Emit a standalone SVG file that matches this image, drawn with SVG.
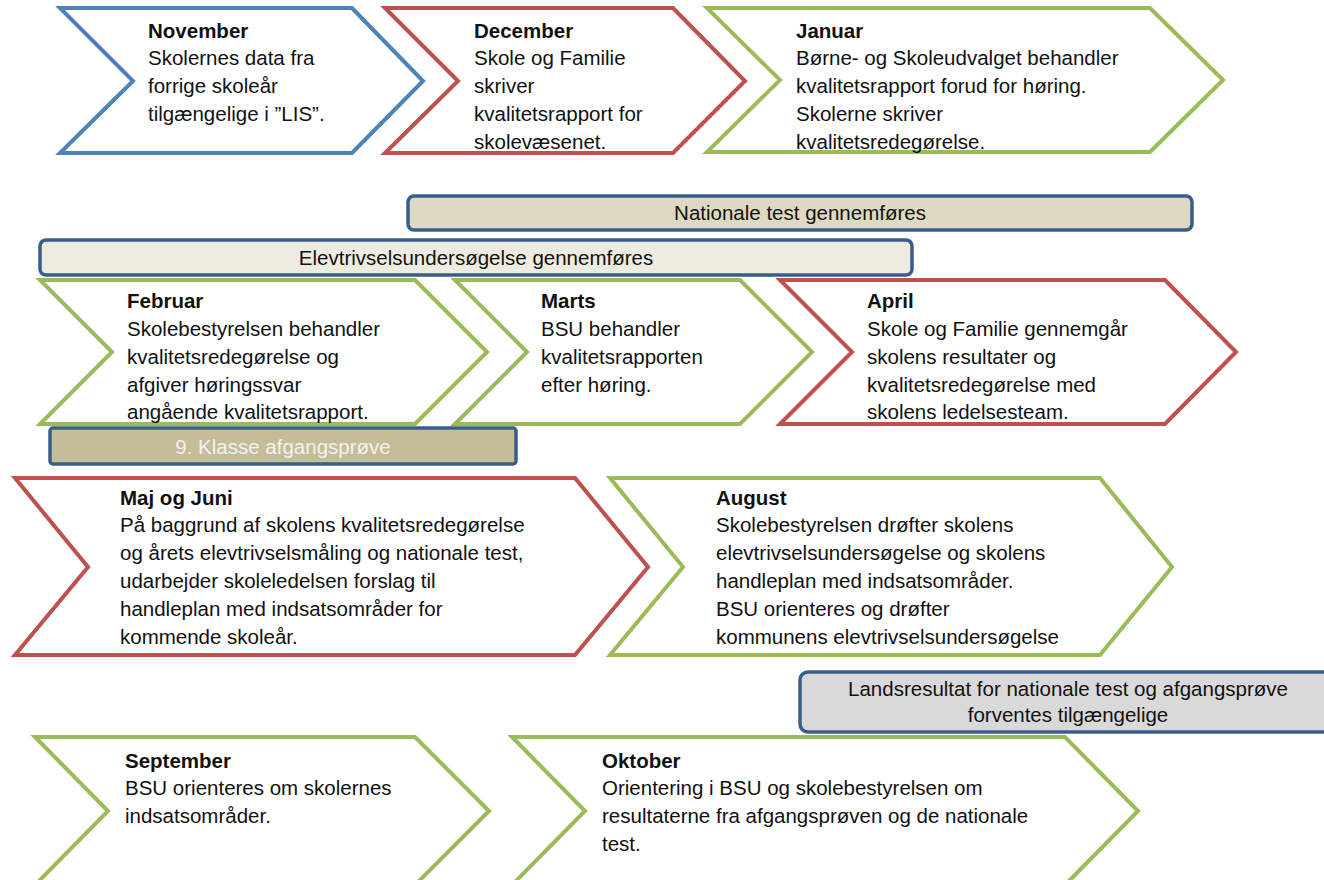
<svg xmlns="http://www.w3.org/2000/svg" width="1324" height="880" viewBox="0 0 1324 880">
<style>
.chev{fill:#fff;stroke-width:4;stroke-linejoin:miter}
.blue{stroke:#4F81BD}
.red{stroke:#C0504D}
.green{stroke:#9BBB59}
.bar{stroke:#385D8A;stroke-width:3.5}
text{font-family:"Liberation Sans",Arial,sans-serif;font-size:20.5px;fill:#111}
.t{font-weight:bold}
.c{text-anchor:middle}
</style>
<rect width="1324" height="880" fill="#fff"/>
<g id="connectors"></g>
<g id="november">
<polygon class="chev blue" points="60,8 352,8 423,81 352,153 60,153 133,81"/>
<text x="148" y="38" class="t">November</text>
<text x="148" y="65">Skolernes data fra</text>
<text x="148" y="93">forrige skoleår</text>
<text x="148" y="121">tilgængelige i ”LIS”.</text>
</g>
<g id="december">
<polygon class="chev red" points="385,8 673,8 745,81 673,153 385,153 458,81"/>
<text x="474" y="38" class="t">December</text>
<text x="474" y="65">Skole og Familie</text>
<text x="474" y="93">skriver</text>
<text x="474" y="121">kvalitetsrapport for</text>
<text x="474" y="149">skolevæsenet.</text>
</g>
<g id="januar">
<polygon class="chev green" points="707,8 1150,8 1223,80 1150,152 707,152 780,80"/>
<text x="796" y="38" class="t">Januar</text>
<text x="796" y="65">Børne- og Skoleudvalget behandler</text>
<text x="796" y="93">kvalitetsrapport forud for høring.</text>
<text x="796" y="121">Skolerne skriver</text>
<text x="796" y="149">kvalitetsredegørelse.</text>
</g>
<g id="nationale">
<rect class="bar" x="408" y="196" width="784" height="34" rx="6" fill="#DDD9C3"/>
<text x="800" y="220" class="c">Nationale test gennemføres</text>
</g>
<g id="elevtrivsel">
<rect class="bar" x="40" y="240" width="872" height="35" rx="6" fill="#EEECE1"/>
<text x="476" y="265" class="c">Elevtrivselsundersøgelse gennemføres</text>
</g>
<g id="februar">
<polygon class="chev green" points="40,280 415,280 487,352 415,424 40,424 112,352"/>
<text x="127" y="308" class="t">Februar</text>
<text x="127" y="336">Skolebestyrelsen behandler</text>
<text x="127" y="364">kvalitetsredegørelse og</text>
<text x="127" y="392">afgiver høringssvar</text>
<text x="127" y="419">angående  kvalitetsrapport.</text>
</g>
<g id="marts">
<polygon class="chev green" points="455,280 740,280 812,352 740,424 455,424 527,352"/>
<text x="541" y="308" class="t">Marts</text>
<text x="541" y="336">BSU behandler</text>
<text x="541" y="364">kvalitetsrapporten</text>
<text x="541" y="392">efter høring.</text>
</g>
<g id="april">
<polygon class="chev red" points="780,280 1165,280 1236,352 1165,424 780,424 852,352"/>
<text x="867" y="308" class="t">April</text>
<text x="867" y="336">Skole og Familie gennemgår</text>
<text x="867" y="364">skolens resultater og</text>
<text x="867" y="392">kvalitetsredegørelse med</text>
<text x="867" y="419">skolens ledelsesteam.</text>
</g>
<g id="afgangsprove">
<rect class="bar" x="50" y="428" width="466" height="36" rx="3" fill="#C4BD97"/>
<text x="283" y="454" class="c" style="fill:#F2F2F2">9. Klasse afgangsprøve</text>
</g>
<g id="majjuni">
<polygon class="chev red" points="15,478 575,478 648,567 575,655 15,655 88,567"/>
<text x="120" y="505" class="t">Maj og Juni</text>
<text x="120" y="532">På baggrund af skolens kvalitetsredegørelse</text>
<text x="120" y="560">og årets elevtrivselsmåling og nationale test,</text>
<text x="120" y="588">udarbejder skoleledelsen forslag til</text>
<text x="120" y="616">handleplan med indsatsområder for</text>
<text x="120" y="644">kommende skoleår.</text>
</g>
<g id="august">
<polygon class="chev green" points="610,478 1100,478 1172,567 1100,655 610,655 683,567"/>
<text x="716" y="505" class="t">August</text>
<text x="716" y="532">Skolebestyrelsen drøfter skolens</text>
<text x="716" y="560">elevtrivselsundersøgelse og skolens</text>
<text x="716" y="588">handleplan med indsatsområder.</text>
<text x="716" y="616">BSU orienteres  og drøfter</text>
<text x="716" y="644">kommunens elevtrivselsundersøgelse</text>
</g>
<g id="landsresultat">
<rect class="bar" x="800" y="672" width="540" height="60" rx="8" fill="#D9D9D9"/>
<text x="1068" y="696" class="c">Landsresultat for nationale test og afgangsprøve</text>
<text x="1068" y="722" class="c">forventes tilgængelige</text>
</g>
<g id="september">
<polygon class="chev green" points="35,737 415,737 489,811 415,885 35,885 108,811"/>
<text x="125" y="768" class="t">September</text>
<text x="125" y="795">BSU orienteres om skolernes</text>
<text x="125" y="823">indsatsområder.</text>
</g>
<g id="oktober">
<polygon class="chev green" points="512,737 1065,737 1138,811 1065,885 512,885 585,811"/>
<text x="602" y="768" class="t">Oktober</text>
<text x="602" y="795">Orientering i BSU og skolebestyrelsen om</text>
<text x="602" y="823">resultaterne fra afgangsprøven og de nationale</text>
<text x="602" y="851">test.</text>
</g>
</svg>
